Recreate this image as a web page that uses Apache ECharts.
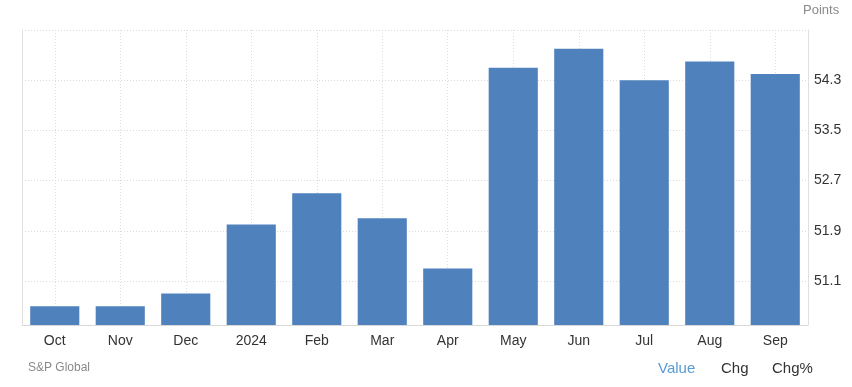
<!DOCTYPE html>
<html>
<head>
<meta charset="utf-8">
<script src="https://cdn.jsdelivr.net/npm/echarts@6/dist/echarts.min.js"></script>
<style>
html,body{margin:0;padding:0;background:#fff;}
#c{width:852px;height:387px;}
</style>
</head>
<body>
<div id="c"></div>
<script>
const categories = ['Oct','Nov','Dec','2024','Feb','Mar','Apr','May','Jun','Jul','Aug','Sep'];
const values = [50.7, 50.7, 50.9, 52.0, 52.5, 52.1, 51.3, 54.5, 54.8, 54.3, 54.6, 54.4];
const yTickValues = [51.1, 51.9, 52.7, 53.5, 54.3, 55.1];
const yLabelValues = [51.1, 51.9, 52.7, 53.5, 54.3];

const chart = echarts.init(document.getElementById('c'));
const FONT = '"Liberation Sans", Arial, sans-serif';
chart.setOption({
  animation: false,
  grid: {left: 22, right: 44, top: 30, bottom: 62, containLabel: false},
  xAxis: {
    type: 'category',
    data: categories,
    boundaryGap: true,
    axisLine: {show: true, lineStyle: {color: '#d8d8d8', width: 1}},
    axisTick: {show: false, alignWithLabel: true},
    axisLabel: {color: '#333', fontSize: 14, fontFamily: FONT, margin: 9},
    splitLine: {show: true, alignWithLabel: true, lineStyle: {color: '#dcdcdc', type: [1, 2], width: 1}}
  },
  yAxis: [{
    type: 'value',
    position: 'right',
    min: 50.4,
    max: 55.1,
    axisLine: {show: true, lineStyle: {color: '#e0e0e0', width: 1}},
    axisTick: {show: false, customValues: yTickValues},
    axisLabel: {color: '#333', fontSize: 14, fontFamily: FONT, margin: 6, customValues: yLabelValues,
      formatter: v => v.toFixed(1)},
    splitLine: {show: true, lineStyle: {color: '#dcdcdc', type: [1, 2], width: 1}}
  }, {
    type: 'value',
    position: 'left',
    min: 50.4,
    max: 55.1,
    axisLine: {show: true, lineStyle: {color: '#e0e0e0', width: 1}},
    axisTick: {show: false},
    axisLabel: {show: false},
    splitLine: {show: false}
  }],
  series: [{
    type: 'bar',
    data: values,
    yAxisIndex: 0,
    barCategoryGap: '25%',
    itemStyle: {color: '#4f81bd'}
  }],
  graphic: [
    {type: 'text', left: 803, top: 4, style: {text: 'Points', fill: '#8a8a8a', font: '13px ' + FONT}},
    {type: 'text', left: 28, top: 362, style: {text: 'S&P Global', fill: '#8a8a8a', font: '12px ' + FONT}},
    {type: 'text', left: 658, top: 361, style: {text: 'Value', fill: '#5b9bd5', font: '15px ' + FONT}},
    {type: 'text', left: 721, top: 361, style: {text: 'Chg', fill: '#333', font: '15px ' + FONT}},
    {type: 'text', left: 772, top: 361, style: {text: 'Chg%', fill: '#333', font: '15px ' + FONT}}
  ]
});
</script>
</body>
</html>
